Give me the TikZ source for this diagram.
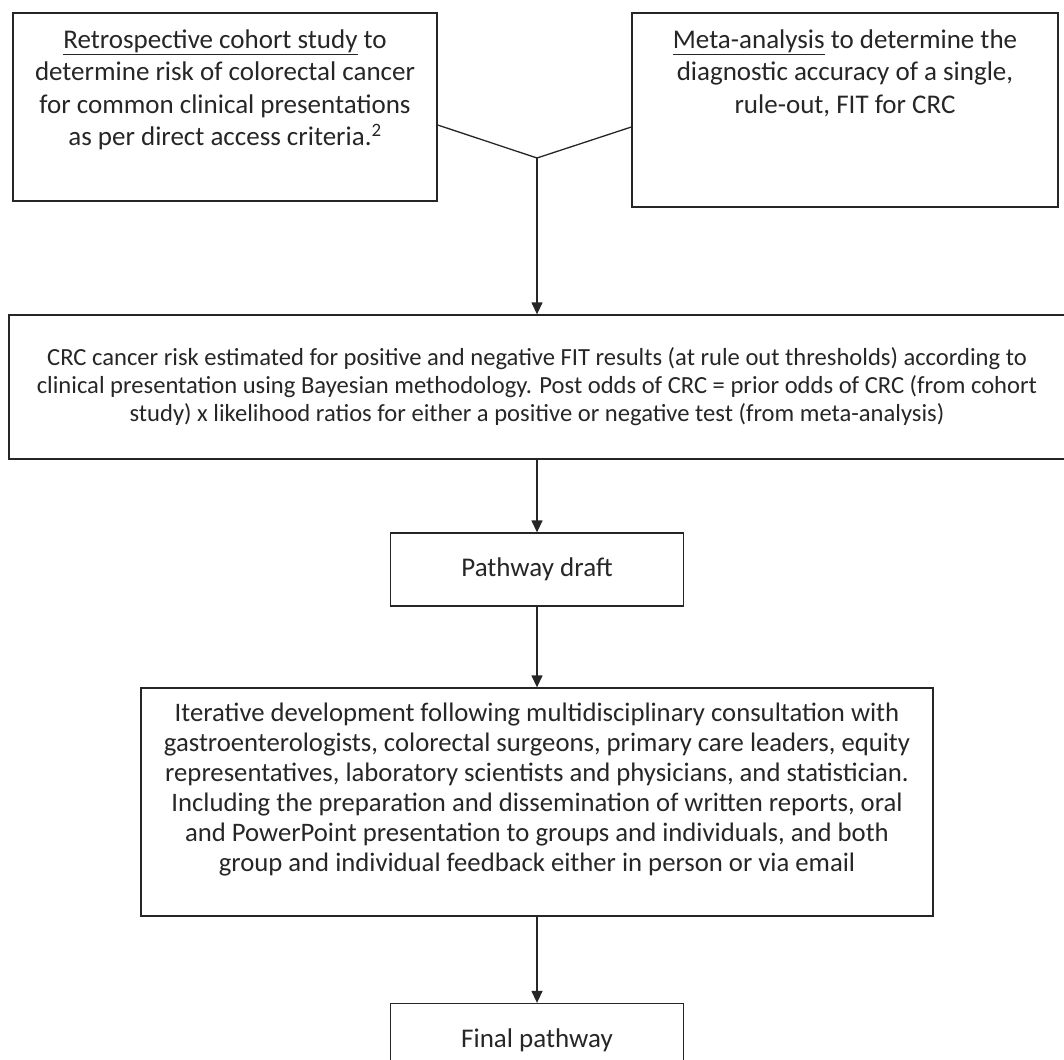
\documentclass[tikz,border=0pt]{standalone}
\usepackage{fontspec}
\setmainfont{Carlito}
\usetikzlibrary{positioning,arrows.meta}

\tikzset{
  frame/.style={draw=black!85, line width=1.3pt, inner sep=0pt},
  txt/.style={inner sep=0pt, align=center, text=black!85},
  bigfont/.style={font={\fontsize{27}{32.5}\selectfont}},
  link/.style={draw=black!85, line width=1.3pt},
  arrow/.style={link, -{Triangle[length=12pt,width=11pt]}}
}

\begin{document}
\begin{tikzpicture}[x=1pt,y=-1pt]
    \useasboundingbox (0,0) rectangle (1064,1059);
    \clip (0,0) rectangle (1064,1059);
    % the two studies
    \node[frame, minimum width=424pt, minimum height=188pt] at (225,107) (cohort) {};
    \node[txt, bigfont, below=17pt of cohort.north] (cohortText) {\underline{Retrospective cohort study} to\\ determine risk of colorectal cancer\\ for common clinical presentations\\ as per direct access criteria.\textsuperscript{2}};
    \node[frame, minimum width=426pt, minimum height=194pt] at (845,110) (meta) {};
    \node[txt, bigfont, below=17pt of meta.north] (metaText) {\underline{Meta-analysis} to determine the\\ diagnostic accuracy of a single,\\ rule-out, FIT for CRC};
    \coordinate (join) at (537,158);
    % combined estimate
    \node[frame, txt, font={\fontsize{24.6}{28}\selectfont}, minimum width=1056pt, minimum height=144pt] at (537,387) (crc) {CRC cancer risk estimated for positive and negative FIT results (at rule out thresholds) according to\\ clinical presentation using Bayesian methodology. Post odds of CRC = prior odds of CRC (from cohort\\ study) x likelihood ratios for either a positive or negative test (from meta-analysis)};
    \node[frame, txt, bigfont, minimum width=293pt, minimum height=73pt] at (537,569.5) (draft) {Pathway draft};
    \node[frame, minimum width=792pt, minimum height=228pt] at (537,802) (consult) {};
    \node[txt, font={\fontsize{26.7}{30}\selectfont}, below=15pt of consult.north] (consultText) {Iterative development following multidisciplinary consultation with\\ gastroenterologists, colorectal surgeons, primary care leaders, equity\\ representatives, laboratory scientists and physicians, and statistician.\\ Including the preparation and dissemination of written reports, oral\\ and PowerPoint presentation to groups and individuals, and both\\ group and individual feedback either in person or via email};
    \node[frame, txt, bigfont, minimum width=293pt, minimum height=73pt] at (537,1040) (final) {Final pathway};
    % connectors
    \draw[link] ([yshift=-18pt]cohort.east) -- (join) -- ([yshift=-17pt]meta.west);
    \draw[arrow] (join) -- (crc);
    \draw[arrow] (crc) -- (draft);
    \draw[arrow] (draft) -- (consult);
    \draw[arrow] (consult) -- (final);
\end{tikzpicture}
\end{document}
